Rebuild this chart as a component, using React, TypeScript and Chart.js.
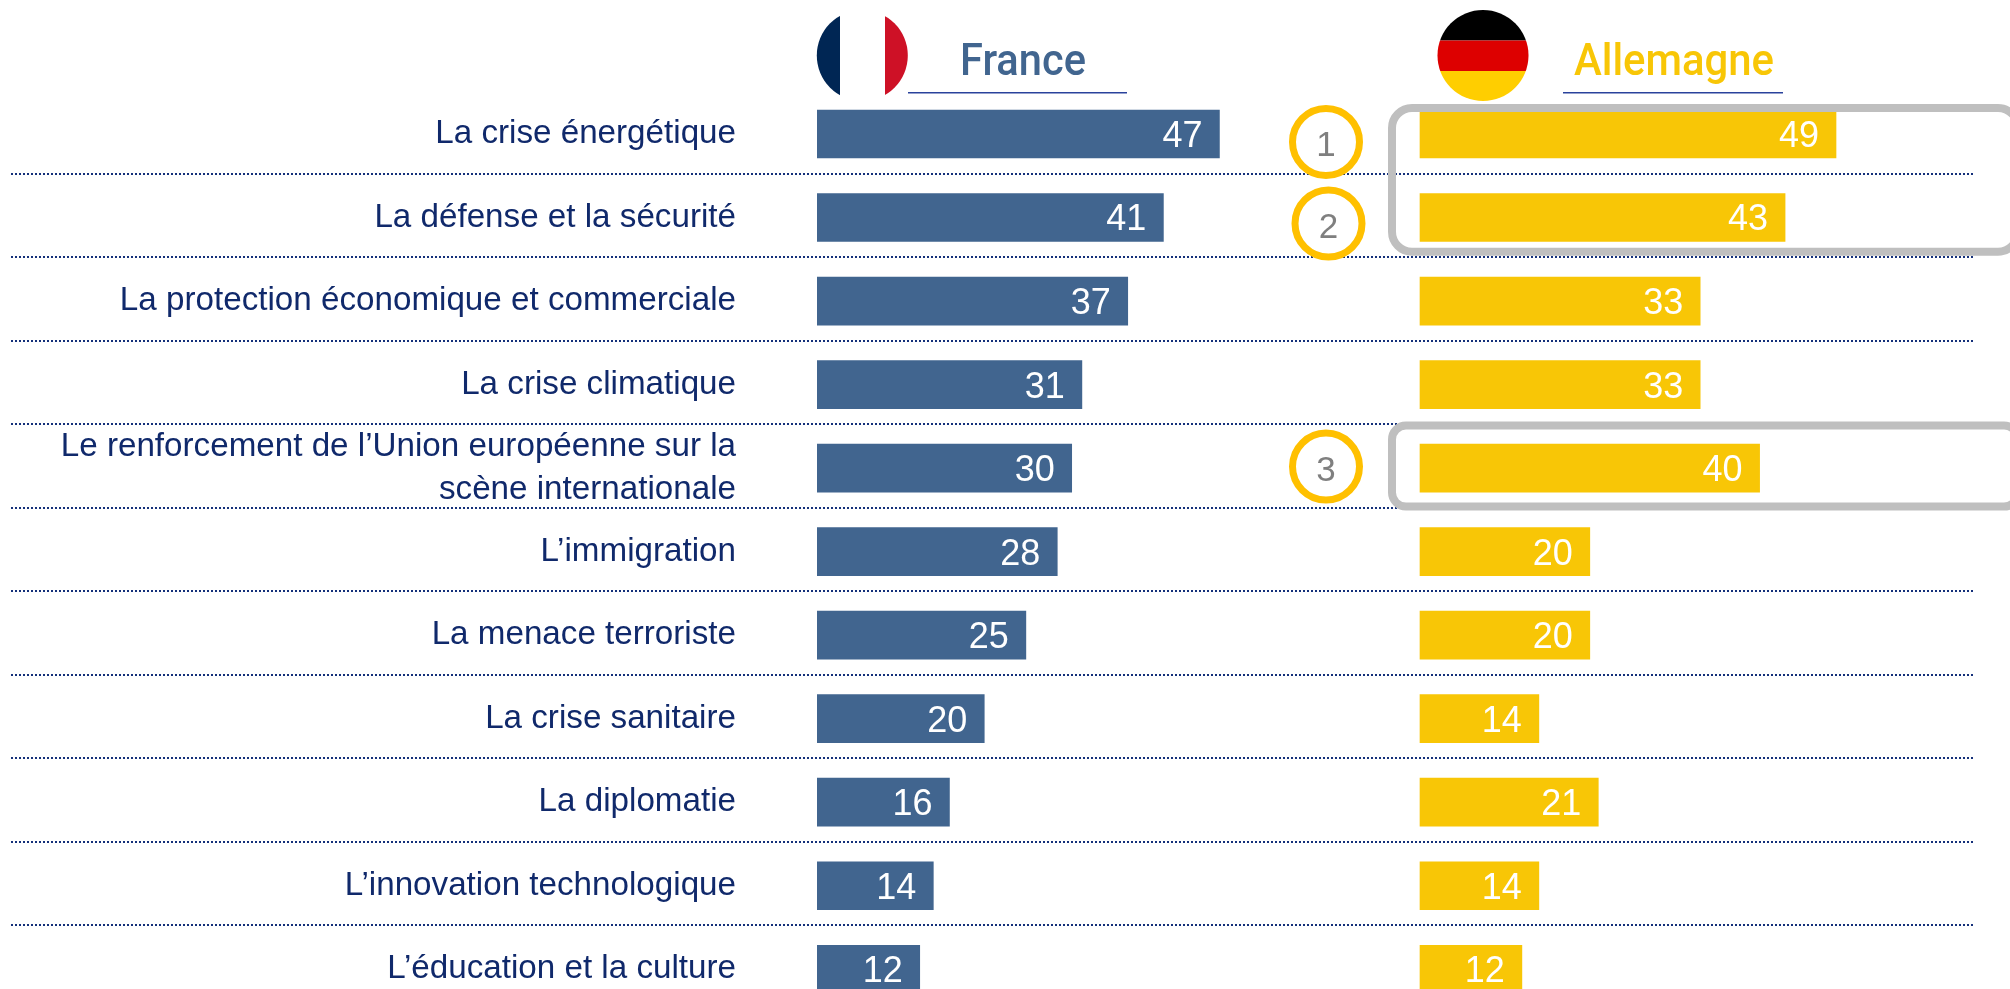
import React, { useEffect, useRef } from "react";
import { Chart, registerables } from "chart.js";

Chart.register(...registerables);

const categories: (string | string[])[] = [
  "La crise énergétique",
  "La défense et la sécurité",
  "La protection économique et commerciale",
  "La crise climatique",
  ["Le renforcement de l’Union européenne sur la", "scène internationale"],
  "L’immigration",
  "La menace terroriste",
  "La crise sanitaire",
  "La diplomatie",
  "L’innovation technologique",
  "L’éducation et la culture",
];
const franceValues = [47.4, 40.8, 36.6, 31.2, 30, 28.3, 24.6, 19.7, 15.6, 13.7, 12.1];
const germanyValues = [49, 43, 33, 33, 40, 20, 20, 14, 21, 14, 12];
const seriesNames = ["France", "Allemagne"];
const callouts = ["1", "2", "3"];

const NAVY = "#10296b";
const BLUE = "#41658f";
const GOLD = "#f8c606";

function fitText(ctx: any, txt: string, x: number, y: number, w: number) {
  const m = ctx.measureText(txt).width;
  ctx.save();
  ctx.translate(x, y);
  ctx.scale(w / m, 1);
  ctx.fillText(txt, 0, 0);
  ctx.restore();
}

const overlay = {
  id: "overlay",
  beforeDatasetsDraw(chart: any) {
    const { ctx, scales } = chart;
    ctx.save();
    ctx.strokeStyle = "#14307a";
    ctx.lineWidth = 2;
    ctx.setLineDash([2, 2]);
    for (let i = 0; i < categories.length - 1; i++) {
      const y = Math.round(scales.y.getPixelForValue(i) + 39.75);
      ctx.beginPath();
      ctx.moveTo(11, y);
      ctx.lineTo(1974, y);
      ctx.stroke();
    }
    ctx.restore();
  },
  afterDatasetsDraw(chart: any) {
    const { ctx, scales } = chart;
    ctx.save();
    // value labels
    ctx.fillStyle = "#ffffff";
    ctx.font = '36px "Liberation Sans"';
    ctx.textAlign = "right";
    ctx.textBaseline = "middle";
    chart.data.datasets.forEach((ds: any, d: number) => {
      chart.getDatasetMeta(d).data.forEach((el: any, i: number) => {
        ctx.fillText(String(Math.round(ds.data[i])), el.x - 17, el.y + 3);
      });
    });

    // grey highlight frames
    ctx.strokeStyle = "#bfbfbf";
    ctx.lineWidth = 8;
    const y0 = scales.y.getPixelForValue(0);
    const y1 = scales.y.getPixelForValue(1);
    const y4 = scales.y.getPixelForValue(4);
    ctx.beginPath();
    ctx.roundRect(1392, y0 - 26, 626, y1 - y0 + 60.2, 20);
    ctx.stroke();
    ctx.beginPath();
    ctx.roundRect(1392, y4 - 42.5, 626, 81, 14);
    ctx.stroke();

    // gold numbered circles
    const spots = [
      [1326, y0 + 8],
      [1328.5, y1 + 6],
      [1326, y4 - 1.5],
    ];
    callouts.forEach((txt, i) => {
      const [cx, cy] = spots[i];
      ctx.beginPath();
      ctx.arc(cx, cy, 33.5, 0, Math.PI * 2);
      ctx.fillStyle = "#ffffff";
      ctx.fill();
      ctx.strokeStyle = "#ffc000";
      ctx.lineWidth = 7;
      ctx.stroke();
      ctx.fillStyle = "#7f7f7f";
      ctx.font = '35px "Liberation Sans"';
      ctx.textAlign = "center";
      ctx.textBaseline = "middle";
      ctx.fillText(txt, cx, cy + 4.5);
    });

    // flags
    ctx.save();
    ctx.beginPath();
    ctx.arc(862.3, 55.5, 45.5, 0, Math.PI * 2);
    ctx.clip();
    ctx.fillStyle = "#002654";
    ctx.fillRect(816, 10, 24, 90);
    ctx.fillStyle = "#ffffff";
    ctx.fillRect(840, 10, 45, 90);
    ctx.fillStyle = "#ce1126";
    ctx.fillRect(885, 10, 24, 90);
    ctx.restore();

    ctx.save();
    ctx.beginPath();
    ctx.ellipse(1483, 55.5, 45.5, 45.5, 0, 0, Math.PI * 2);
    ctx.clip();
    ctx.fillStyle = "#000000";
    ctx.fillRect(1436, 8, 94, 32.5);
    ctx.fillStyle = "#dd0000";
    ctx.fillRect(1436, 40.5, 94, 30.5);
    ctx.fillStyle = "#ffce00";
    ctx.fillRect(1436, 71, 94, 32);
    ctx.restore();

    // headers
    ctx.font = "500 45px Roboto";
    ctx.textAlign = "left";
    ctx.textBaseline = "alphabetic";
    ctx.fillStyle = BLUE;
    fitText(ctx, seriesNames[0], 960, 75, 126);
    ctx.fillStyle = GOLD;
    fitText(ctx, seriesNames[1], 1574, 75, 200);

    ctx.strokeStyle = "#2a429c";
    ctx.lineWidth = 1.5;
    ctx.beginPath();
    ctx.moveTo(908, 92.7);
    ctx.lineTo(1127, 92.7);
    ctx.moveTo(1563, 92.7);
    ctx.lineTo(1783, 92.7);
    ctx.stroke();
    ctx.restore();
  },
};

export default function App() {
  const ref = useRef<HTMLCanvasElement>(null);

  useEffect(() => {
    const pxPerUnit = 8.49;
    const span = (2010 - 817) / pxPerUnit;
    const germanyShift = (1420 - 817) / pxPerUnit;
    const chart = new Chart(ref.current as HTMLCanvasElement, {
      type: "bar",
      data: {
        labels: categories as any,
        datasets: [
          { label: seriesNames[0], data: franceValues, backgroundColor: BLUE, xAxisID: "xF", barThickness: 48, grouped: false } as any,
          { label: seriesNames[1], data: germanyValues, backgroundColor: GOLD, xAxisID: "xG", barThickness: 48, grouped: false } as any,
        ],
      },
      plugins: [overlay],
      options: {
        indexAxis: "y",
        responsive: false,
        animation: false,
        events: [],
        layout: { padding: { top: 92.25, left: 0, right: 0, bottom: 0 } },
        plugins: { legend: { display: false }, title: { display: false }, tooltip: { enabled: false } },
        scales: {
          xF: { axis: "x", type: "linear", display: false, min: 0, max: span },
          xG: { axis: "x", type: "linear", display: false, min: -germanyShift, max: span - germanyShift },
          y: {
            type: "category",
            position: "left",
            grid: { display: false, drawTicks: false },
            border: { display: false },
            afterFit: (s: any) => {
              s.width = 817;
              s.paddingTop = 0;
              s.paddingBottom = 0;
            },
            ticks: {
              autoSkip: false,
              padding: 81,
              color: NAVY,
              font: { family: '"Liberation Sans"', size: 33.2, lineHeight: 1.29 },
            },
          },
        },
      } as any,
    });
    return () => chart.destroy();
  }, []);

  return (
    <div style={{ position: "absolute", left: 0, top: 0, width: 2010, height: 989, overflow: "hidden", background: "#fff" }}>
      <canvas ref={ref} width={2010} height={1011} style={{ display: "block" }} />
    </div>
  );
}
